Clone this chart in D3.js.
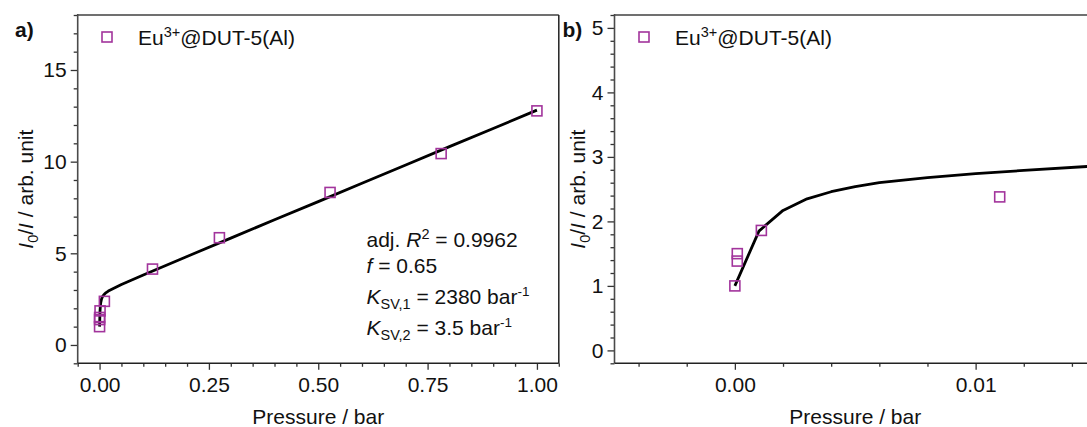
<!DOCTYPE html>
<html>
<head>
<meta charset="utf-8">
<script src="https://cdn.jsdelivr.net/npm/d3@7"></script>
<style>
  html, body { margin: 0; padding: 0; background: #fff; }
  svg { display: block; font-family: "Liberation Sans", Arial, sans-serif; }
</style>
</head>
<body>
<svg id="chart" width="1087" height="427"></svg>
<script>
// Measured quenching data: oxygen pressure (bar) vs. intensity ratio I0/I
const pressure = [0, 0.0001, 0.0001, 0.0011, 0.011, 0.121, 0.274, 0.527, 0.781, 1.0];
const ratio    = [1.00, 1.385, 1.50, 1.86, 2.38, 4.14, 5.85, 8.32, 10.44, 12.77];

// Two-site Stern-Volmer fit curve
const fitPressure = [0, 0.001, 0.002, 0.003, 0.004, 0.005, 0.006, 0.008, 0.01, 0.012,
                     0.015, 0.02, 0.05, 0.1, 0.2, 0.3, 0.4, 0.5, 0.6, 0.7, 0.8, 0.9, 1.0];
const fitRatio    = [1.00, 1.85, 2.17, 2.35, 2.46, 2.54, 2.60, 2.68, 2.74, 2.79,
                     2.86, 2.94, 3.30, 3.82, 4.83, 5.83, 6.83, 7.82, 8.82, 9.82, 10.82, 11.81, 12.81];

// Axis ticks
const aXTicks = [0, 0.25, 0.5, 0.75, 1.0];
const aYTicks = [0, 5, 10, 15];
const bXTicks = [0, 0.01];
const bYTicks = [0, 1, 2, 3, 4, 5];

const seriesName = "Eu";
const seriesSup = "3+";
const seriesRest = "@DUT-5(Al)";

const PURPLE = "#a2349c";
const FS = 21;

const svg = d3.select("#chart");
const points = pressure.map((p, i) => ({ p, r: ratio[i] }));
const fit = fitPressure.map((p, i) => ({ p, r: fitRatio[i] }));

function panel(cfg) {
  const { left, right, top, bottom, xDomain, yDomain, xTicks, yTicks, xMinor, yMinor, xFmt, id } = cfg;
  const x = d3.scaleLinear().domain(xDomain).range([left, right]);
  const y = d3.scaleLinear().domain(yDomain).range([bottom, top]);
  const g = svg.append("g");

  g.append("clipPath").attr("id", id).append("rect")
    .attr("x", left).attr("y", top).attr("width", right - left).attr("height", bottom - top);

  // minor ticks
  g.append("g").attr("transform", `translate(0,${bottom})`)
    .call(d3.axisBottom(x).tickValues(xMinor).tickSize(3.5).tickFormat(""))
    .call(s => s.select(".domain").remove());
  g.append("g").attr("transform", `translate(${left},0)`)
    .call(d3.axisLeft(y).tickValues(yMinor).tickSize(4).tickFormat(""))
    .call(s => s.select(".domain").remove());

  // major ticks
  const xa = g.append("g").attr("transform", `translate(0,${bottom})`)
    .call(d3.axisBottom(x).tickValues(xTicks).tickSize(6.5).tickPadding(7).tickFormat(xFmt))
    .call(s => s.select(".domain").remove());
  const ya = g.append("g").attr("transform", `translate(${left},0)`)
    .call(d3.axisLeft(y).tickValues(yTicks).tickSize(7).tickPadding(4).tickFormat(d3.format("d")))
    .call(s => s.select(".domain").remove());
  [xa, ya].forEach(a => {
    a.selectAll("text").attr("font-size", FS).attr("font-family", "Liberation Sans, Arial, sans-serif").attr("fill", "#111");
  });
  svg.selectAll(".tick line").attr("stroke", "#333").attr("stroke-width", 1.3);

  // frame
  g.append("line").attr("x1", left).attr("x2", right).attr("y1", top).attr("y2", top)
    .attr("stroke", "#707070").attr("stroke-width", 2);
  g.append("line").attr("x1", right).attr("x2", right).attr("y1", top).attr("y2", bottom)
    .attr("stroke", "#222").attr("stroke-width", 1.5);
  g.append("line").attr("x1", left).attr("x2", left).attr("y1", top - 1).attr("y2", bottom)
    .attr("stroke", "#4a4a4a").attr("stroke-width", 1.6);
  g.append("line").attr("x1", left).attr("x2", right).attr("y1", bottom).attr("y2", bottom)
    .attr("stroke", "#222").attr("stroke-width", 1.6);

  const plot = g.append("g").attr("clip-path", `url(#${id})`);

  // fitted curve
  plot.append("path").datum(fit)
    .attr("fill", "none").attr("stroke", "#000").attr("stroke-width", 2.8)
    .attr("stroke-linejoin", "round")
    .attr("d", d3.line().x(d => x(d.p)).y(d => y(d.r)));

  // data squares
  const sz = 10;
  plot.selectAll("rect.pt").data(points.filter(d => d.p <= xDomain[1])).join("rect")
    .attr("class", "pt")
    .attr("x", d => x(d.p) - sz / 2).attr("y", d => y(d.r) - sz / 2)
    .attr("width", sz).attr("height", sz)
    .attr("fill", "none").attr("stroke", PURPLE).attr("stroke-width", 1.6);

  // legend
  const lx = left + cfg.legendDx, ly = 37;
  g.append("rect").attr("x", lx - 5).attr("y", ly - 5).attr("width", 10).attr("height", 10)
    .attr("fill", "none").attr("stroke", PURPLE).attr("stroke-width", 1.6);
  const lt = g.append("text").attr("x", lx + 31).attr("y", 44.5).attr("font-size", FS).attr("fill", "#111");
  lt.append("tspan").text(seriesName);
  lt.append("tspan").attr("font-size", 14.5).attr("dy", -8).text(seriesSup);
  lt.append("tspan").attr("font-size", FS).attr("dy", 8).text(seriesRest);

  // x title
  g.append("text").attr("x", (left + right) / 2).attr("y", 424)
    .attr("text-anchor", "middle").attr("font-size", FS).attr("fill", "#111")
    .text("Pressure / bar");

  // y title
  const yt = g.append("text")
    .attr("transform", `translate(${cfg.yTitleX},${(top + bottom) / 2}) rotate(-90)`)
    .attr("text-anchor", "middle").attr("font-size", FS).attr("fill", "#111");
  yt.append("tspan").attr("font-style", "italic").text("I");
  yt.append("tspan").attr("font-size", 14.5).attr("dy", 5).text("0");
  yt.append("tspan").attr("dy", -5).text("/");
  yt.append("tspan").attr("font-style", "italic").text("I");
  yt.append("tspan").text(" / arb. unit");

  // panel letter
  g.append("text").attr("x", cfg.letterX).attr("y", 36.5).attr("font-size", 21)
    .attr("font-weight", "bold").attr("fill", "#111").text(cfg.letter);

  return { x, y, g };
}

panel({
  id: "clipA", left: 77.7, right: 558.8, top: 15, bottom: 363.3,
  xDomain: [-0.05, 1.05], yDomain: [-1, 18],
  xTicks: aXTicks, yTicks: aYTicks,
  xMinor: d3.range(-0.05, 1.0501, 0.05).filter(v => Math.abs(v * 4 - Math.round(v * 4)) > 1e-6),
  yMinor: d3.range(-1, 18.01, 1).filter(v => v % 5 !== 0),
  xFmt: d3.format(".2f"), legendDx: 29.3, yTitleX: 33, letter: "a)", letterX: 15
});

panel({
  id: "clipB", left: 614.5, right: 1096, top: 15, bottom: 363.3,
  xDomain: [-0.005, 0.015], yDomain: [-0.2, 5.2],
  xTicks: bXTicks, yTicks: bYTicks,
  xMinor: [-0.004, -0.002, 0.002, 0.004, 0.006, 0.008, 0.012, 0.014],
  yMinor: d3.range(-0.2, 5.201, 0.2).filter(v => Math.abs(v - Math.round(v)) > 1e-6),
  xFmt: d3.format(".2f"), legendDx: 29.5, yTitleX: 585, letter: "b)", letterX: 562.5
});

// fit statistics annotation in panel a
const ann = svg.append("g").attr("font-size", FS).attr("fill", "#111");
const l1 = ann.append("text").attr("x", 366.5).attr("y", 246.7);
l1.append("tspan").text("adj. ");
l1.append("tspan").attr("font-style", "italic").text("R");
l1.append("tspan").attr("font-size", 14.5).attr("dy", -8).text("2");
l1.append("tspan").attr("dy", 8).text(" = 0.9962");

const l2 = ann.append("text").attr("x", 366.5).attr("y", 273.3);
l2.append("tspan").attr("font-style", "italic").text("f");
l2.append("tspan").text(" = 0.65");

[["SV,1", " = 2380 bar", 304], ["SV,2", " = 3.5 bar", 335]].forEach(([sub, rest, yy]) => {
  const t = ann.append("text").attr("x", 366.5).attr("y", yy);
  t.append("tspan").attr("font-style", "italic").text("K");
  t.append("tspan").attr("font-size", 14.5).attr("dy", 5).text(sub);
  t.append("tspan").attr("font-size", FS).attr("dy", -5).text(rest);
  t.append("tspan").attr("font-size", 13.5).attr("dy", -8).text("-1");
});
</script>
</body>
</html>
